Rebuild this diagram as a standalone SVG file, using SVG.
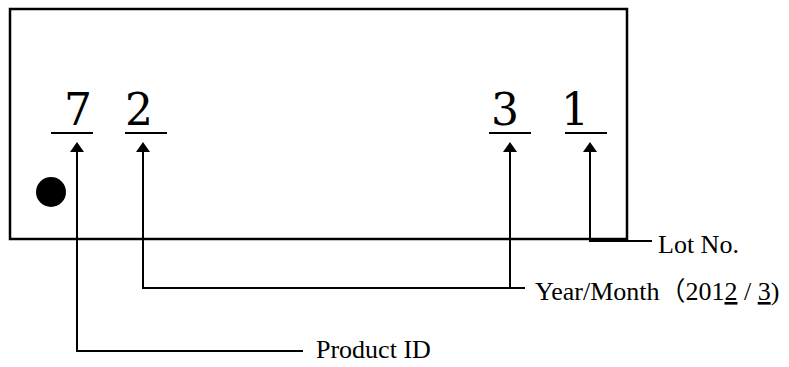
<svg xmlns="http://www.w3.org/2000/svg" width="789" height="367" viewBox="0 0 789 367">
<style>
.digit{font-family:"DejaVu Serif","Liberation Serif",serif;font-size:44px;fill:#000;text-anchor:middle}
.lbl{font-family:"Liberation Serif","Noto Sans CJK JP",serif;font-size:26px;fill:#000}
.ul{stroke:#000;stroke-width:2}
.conn{fill:none;stroke:#000;stroke-width:2}
.u{text-decoration:underline}
</style>
<defs>
<marker id="arr" viewBox="0 0 10 14" refX="0" refY="7" markerWidth="10" markerHeight="14" markerUnits="userSpaceOnUse" orient="auto">
<path d="M0,0 L10,7 L0,14 z" fill="#000"/>
</marker>
</defs>
<rect width="789" height="367" fill="#fff"/>
<g id="label-plate">
<rect x="10" y="9" width="617" height="230" fill="none" stroke="#000" stroke-width="2.5"/>
<circle cx="51" cy="192" r="15" fill="#000"/>
</g>
<g id="digit-7">
<text class="digit" x="78" y="125">7</text>
<line class="ul" x1="51" y1="133" x2="93" y2="133"/>
</g>
<g id="digit-2">
<text class="digit" x="139" y="125">2</text>
<line class="ul" x1="125" y1="133" x2="167" y2="133"/>
</g>
<g id="digit-3">
<text class="digit" x="505" y="125">3</text>
<line class="ul" x1="489" y1="133" x2="531" y2="133"/>
</g>
<g id="digit-1">
<text class="digit" x="575" y="125">1</text>
<line class="ul" x1="565" y1="133" x2="607" y2="133"/>
</g>
<g id="connectors">
<path class="conn" d="M303,351 H77 V152" marker-end="url(#arr)"/>
<path class="conn" d="M525,288 H143 V152" marker-end="url(#arr)"/>
<path class="conn" d="M510,288 V152" marker-end="url(#arr)"/>
<path class="conn" d="M652,241 H590 V152" marker-end="url(#arr)"/>
</g>
<g id="label-lot">
<text class="lbl" x="658" y="253">Lot No.</text>
</g>
<g id="label-yearmonth">
<text class="lbl" x="535" y="300">Year/Month（201<tspan class="u">2</tspan> / <tspan class="u">3</tspan>)</text>
</g>
<g id="label-product">
<text class="lbl" x="316" y="358">Product ID</text>
</g>
</svg>
